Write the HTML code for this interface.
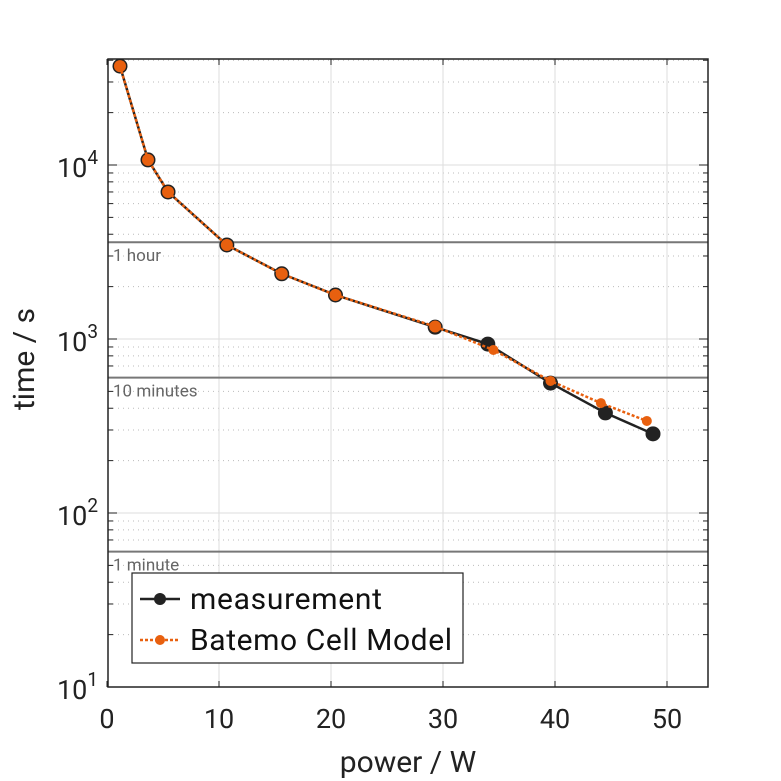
<!DOCTYPE html>
<html><head><meta charset="utf-8"><style>
body{margin:0;background:#fff;}
svg{display:block;font-family:"Roboto","Liberation Sans",sans-serif;}
</style></head><body>
<svg id="chart" width="781" height="781" viewBox="0 0 781 781"></svg>
<script>
const measPower=[1.16,3.66,5.45,10.7,15.6,20.4,29.3,34.0,39.6,44.5,48.75];
const measTime=[37000,10700,7000,3470,2370,1790,1170,935,558,376,285];
const modelPower=[1.16,3.66,5.45,10.7,15.6,20.4,29.3,34.5,39.6,44.1,48.2];
const modelTime=[37000,10700,7000,3470,2370,1790,1180,865,574,428,338];
const xTicks=[0,10,20,30,40,50];
const yTickExps=[1,2,3,4];
const refLines=[3600,600,60];
const refLabels=["1 hour","10 minutes","1 minute"];

const L=108,R=708,T=59,B=687;
const X=v=>107+v*11.2;
const Y=v=>B-(Math.log10(v)-1)*174;
const NS="http://www.w3.org/2000/svg";
const svg=document.getElementById('chart');
function mk(tag,attrs,parent){const e=document.createElementNS(NS,tag);for(const k in attrs)e.setAttribute(k,attrs[k]);(parent||svg).appendChild(e);return e;}

for(let d=1;d<=4;d++){for(let m=2;m<=9;m++){const v=m*Math.pow(10,d);const y=Y(v);if(y<T)continue;
const g=mk('line',{x1:L,x2:R,y1:y,y2:y,stroke:'#bbb','stroke-width':1,'stroke-dasharray':'1 4'});


mk('line',{x1:L,x2:L+5,y1:y,y2:y,stroke:'#222'});mk('line',{x1:R-5,x2:R,y1:y,y2:y,stroke:'#222'});}}
yTickExps.forEach(e=>{const y=Y(Math.pow(10,e));
const g=mk('line',{x1:L,x2:R,y1:y,y2:y,stroke:'#ddd','stroke-width':1});


mk('line',{x1:L,x2:L+9,y1:y,y2:y,stroke:'#222'});mk('line',{x1:R-9,x2:R,y1:y,y2:y,stroke:'#222'});
const t=mk('text',{x:98,y:y+12,'text-anchor':'end','font-size':27,fill:'#222'});


t.innerHTML='10<tspan dy="-13" font-size="19">'+e+'</tspan>';});
xTicks.forEach(v=>{const x=X(v);
if(v>0){const g=mk('line',{x1:x,x2:x,y1:T,y2:B,stroke:'#ddd'});

}
mk('line',{x1:x,x2:x,y1:B,y2:B-6,stroke:'#222'});mk('line',{x1:x,x2:x,y1:T,y2:T+6,stroke:'#222'});
const t=mk('text',{x:x,y:728,'text-anchor':'middle','font-size':27,fill:'#222'});


t.textContent=v;});
refLines.forEach((v,i)=>{const y=Y(v);
const l=mk('line',{x1:L,x2:R,y1:y,y2:y,stroke:'#777','stroke-width':2});


const t=mk('text',{x:113,y:y+19,'font-size':17,fill:'#666'});


t.textContent=refLabels[i];});
const fr=mk('rect',{x:L,y:T,width:R-L,height:B-T,fill:'none',stroke:'#222','stroke-width':1.5});


const mp=measPower.map((p,i)=>X(p)+','+Y(measTime[i])).join(' ');
const ml=mk('polyline',{points:mp,fill:'none',stroke:'#222','stroke-width':2.5});


measPower.forEach((p,i)=>{const c=mk('circle',{cx:X(p),cy:Y(measTime[i]),r:7.5,fill:'#222'});

});
const op=modelPower.map((p,i)=>X(p)+','+Y(modelTime[i])).join(' ');
const ol=mk('polyline',{points:op,fill:'none',stroke:'#e8600f','stroke-width':2.5,'stroke-dasharray':'3 2'});


modelPower.forEach((p,i)=>{const c=mk('circle',{cx:X(p),cy:Y(modelTime[i]),r:i<7?6:5,fill:'#e8600f'});

});
</script>
<svg style="position:absolute;left:0;top:0" width="781" height="781">
<g>
<rect x="132" y="573" width="331" height="90" fill="#fff" stroke="#222" stroke-width="1.2"/>
<line x1="140" x2="180" y1="599" y2="599" stroke="#222" stroke-width="2.5"/>
<circle cx="160" cy="599" r="6" fill="#222"/>
<text x="190" y="609" font-size="30" textLength="192" fill="#111">measurement</text>
<line x1="140" x2="180" y1="640" y2="640" stroke="#e8600f" stroke-width="2.5" stroke-dasharray="3 2"/>
<circle cx="160" cy="640" r="5" fill="#e8600f"/>
<text x="190" y="650" font-size="30" textLength="262" fill="#111">Batemo Cell Model</text>
</g>
<text x="408" y="772" text-anchor="middle" font-size="30" fill="#222">power / W</text>
<text transform="translate(34,359) rotate(-90)" text-anchor="middle" font-size="30" fill="#222">time / s</text>
</svg>
</body></html>
